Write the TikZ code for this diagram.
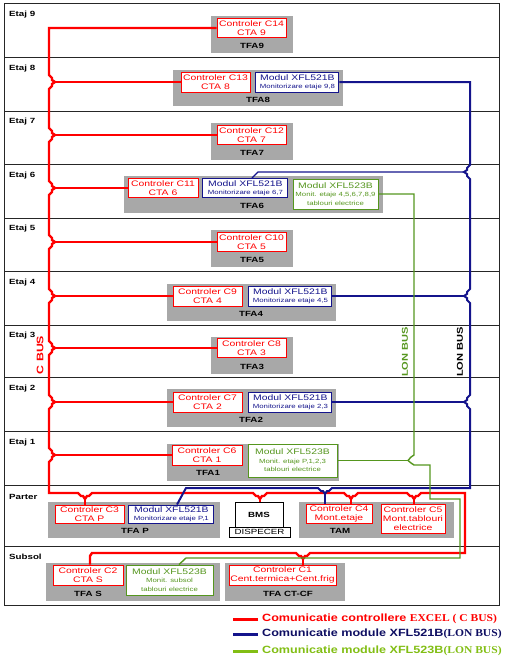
\documentclass[tikz,border=0pt]{standalone}
\usepackage{fontspec}
\setmainfont{Liberation Sans}
\newfontfamily\boxfont[FakeStretch=1.3]{Liberation Sans}
\newfontfamily\legfont[FakeStretch=1.2]{Liberation Sans}
\newfontfamily\legserif[FakeStretch=1.1]{Liberation Serif}
\usepackage{xcolor}
\usepackage{tikz}
\usetikzlibrary{positioning}

\definecolor{lonblue}{RGB}{20,20,140}
\definecolor{longreen}{RGB}{85,150,30}
\definecolor{leggreen}{RGB}{130,190,20}
\definecolor{panelgray}{RGB}{168,168,168}

\newcommand{\sm}[1]{{\fontsize{6}{7}\selectfont #1}}

\begin{document}
\begin{tikzpicture}[
  x=1pt,y=-1pt,
  panel/.style={fill=panelgray,inner sep=0pt},
  ctrl/.style={draw=red,fill=white,line width=0.9pt,text=red,inner sep=0pt,align=center,
    minimum width=69pt,minimum height=19pt,font=\boxfont\fontsize{8}{9}\selectfont},
  lmod/.style={draw=lonblue,fill=white,line width=0.9pt,text=lonblue,inner sep=0pt,align=center,
    minimum width=83pt,minimum height=20pt,font=\boxfont\fontsize{8}{8.5}\selectfont},
  gmod/.style={draw=longreen,fill=white,line width=0.9pt,text=longreen,inner sep=0pt,align=center,
    minimum width=86pt,minimum height=30pt,font=\boxfont\fontsize{8}{8.5}\selectfont},
  tfa/.style={inner sep=0pt,font=\boxfont\bfseries\fontsize{7.5}{9}\selectfont},
  etaj/.style={anchor=west,inner sep=0pt,font=\boxfont\bfseries\fontsize{7.5}{9}\selectfont},
  plain/.style={draw=black,fill=white,line width=0.9pt,inner sep=0pt,font=\boxfont\fontsize{7.5}{9}\selectfont},
  floor/.style={draw=black!85,line width=0.8pt},
  cbus/.style={draw=red,line width=2.4pt},
  lbus/.style={draw=lonblue,line width=2pt},
  lbr/.style={draw=lonblue,line width=1.3pt},
  gbus/.style={draw=longreen,line width=1.4pt},
  buslbl/.style={rotate=90,inner sep=0pt,font=\boxfont\bfseries\fontsize{8.5}{10}\selectfont},
  leg/.style={anchor=west,inner sep=0pt,font=\legfont\bfseries\fontsize{10.5}{12}\selectfont}
]
\useasboundingbox (0,0) rectangle (516,661);

% building outline and floors
\draw[floor] (4,3) rectangle (499,605);
\foreach \y in {57,111,164,218,271,325,377,431,485,546}
  \draw[floor] (4,\y) -- (499,\y);
\foreach \y/\t [count=\i] in {15/Etaj 9,69/Etaj 8,122/Etaj 7,176/Etaj 6,229/Etaj 5,
    283/Etaj 4,336/Etaj 3,389/Etaj 2,443/Etaj 1,497/Parter,557/Subsol}
  \node[etaj] (et\i) at (9,\y) {\t};

% panels
\node[panel,minimum width=82pt,minimum height=37pt] (p9) at (252,34.5) {};
\node[panel,minimum width=170pt,minimum height=36pt] (p8) at (258,88) {};
\node[panel,minimum width=82pt,minimum height=37pt] (p7) at (252,141) {};
\node[panel,minimum width=259pt,minimum height=37pt] (p6) at (253.5,194.5) {};
\node[panel,minimum width=82pt,minimum height=37pt] (p5) at (252,248.5) {};
\node[panel,minimum width=169pt,minimum height=37pt] (p4) at (251.5,302.5) {};
\node[panel,minimum width=82pt,minimum height=37pt] (p3) at (252,355.5) {};
\node[panel,minimum width=169pt,minimum height=38pt] (p2) at (251.5,408) {};
\node[panel,minimum width=172pt,minimum height=37pt] (p1) at (253,462.5) {};
\node[panel,minimum width=172pt,minimum height=36pt] (pp) at (134,520) {};
\node[panel,minimum width=155pt,minimum height=36pt] (ptam) at (376.5,520) {};
\node[panel,minimum width=174pt,minimum height=38pt] (ps) at (133,582) {};
\node[panel,minimum width=120pt,minimum height=38pt] (pct) at (285,582) {};

% controllers and modules
\node[ctrl] (c14) at (251.5,28) {Controler C14\\CTA 9};
\node[ctrl,minimum height=20pt] (c13) at (215.5,82) {Controler C13\\CTA 8};
\node[lmod,right=5pt of c13] (m8) {Modul XFL521B\\\sm{Monitorizare etaje 9,8}};
\node[ctrl] (c12) at (251.5,135) {Controler C12\\CTA 7};
\node[ctrl,minimum width=70pt] (c11) at (163,188) {Controler C11\\CTA 6};
\node[lmod,right=4pt of c11,minimum width=85pt,minimum height=19pt] (m6) {Modul XFL521B\\\sm{Monitorizare etaje 6,7}};
\node[gmod,minimum width=85pt] (g6) at (335.5,194) {Modul XFL523B\\\sm{Monit. etaje 4,5,6,7,8,9}\\\sm{tablouri electrice}};
\node[ctrl] (c10) at (251.5,242) {Controler C10\\CTA 5};
\node[ctrl,minimum height=20pt] (c9) at (207.5,296) {Controler C9\\CTA 4};
\node[lmod,right=6pt of c9] (m4) {Modul XFL521B\\\sm{Monitorizare etaje 4,5}};
\node[ctrl] (c8) at (251.5,348) {Controler C8\\CTA 3};
\node[ctrl,minimum height=20pt] (c7) at (207.5,402) {Controler C7\\CTA 2};
\node[lmod,right=6pt of c7] (m2) {Modul XFL521B\\\sm{Monitorizare etaje 2,3}};
\node[ctrl,minimum width=70pt,minimum height=20pt] (c6) at (207,455) {Controler C6\\CTA 1};
\node[gmod,minimum width=89pt,minimum height=33pt] (g1) at (292.5,460.5) {Modul XFL523B\\\sm{Monit. etaje P,1,2,3}\\\sm{tablouri electrice}};
\node[ctrl,minimum height=18pt] (c3) at (89.5,514) {Controler C3\\CTA P};
\node[lmod,right=4pt of c3,minimum width=85pt,minimum height=18pt] (mp) {Modul XFL521B\\\sm{Monitorizare etaje P,1}};
\node[plain,minimum width=48pt,minimum height=25pt,font=\boxfont\bfseries\fontsize{7.5}{9}\selectfont] (bms) at (259,514.5) {BMS};
\node[plain,minimum width=61pt,minimum height=10pt] (disp) at (259.5,532) {DISPECER};
\node[ctrl,minimum width=66pt] (c4) at (339,513.5) {Controler C4\\Mont.etaje};
\node[ctrl,minimum width=64pt,minimum height=29pt] (c5) at (413,518.5) {Controler C5\\Mont.tablouri\\electrice};
\node[ctrl,minimum width=70pt,minimum height=20pt] (c2) at (88,575) {Controler C2\\CTA S};
\node[gmod,minimum width=87pt] (gs) at (169.5,580) {Modul XFL523B\\\sm{Monit. subsol}\\\sm{tablouri electrice}};
\node[ctrl,minimum width=107pt,minimum height=20pt] (c1) at (282.5,575) {Controler C1\\Cent.termica+Cent.frig};

% panel labels
\node[tfa] (t9) at (252,46) {TFA9};
\node[tfa] (t8) at (258,100) {TFA8};
\node[tfa] (t7) at (252,153) {TFA7};
\node[tfa] (t6) at (252,206) {TFA6};
\node[tfa] (t5) at (252,260) {TFA5};
\node[tfa] (t4) at (251,314) {TFA4};
\node[tfa] (t3) at (252,367) {TFA3};
\node[tfa] (t2) at (251,420) {TFA2};
\node[tfa] (t1) at (208,473) {TFA1};
\node[tfa] (tp) at (135,531) {TFA P};
\node[tfa] (ttam) at (340,531) {TAM};
\node[tfa] (ts) at (88,594) {TFA S};
\node[tfa] (tct) at (288,594) {TFA CT-CF};

% C BUS
\draw[cbus] (c14.west) -- (49,28)
  \foreach \y in {82,135,188,242,296,348,402,455} {
    -- (49,\y-7) -- (52,\y-4) -- (52,\y-2) -- (55,\y) -- (52,\y+2) -- (52,\y+4) -- (49,\y+7) }
  -- (49,493)
  \foreach \x in {85,260,351,414} {
    -- (\x-7,493) -- (\x-4,496) -- (\x-2,496) -- (\x,499) -- (\x+2,496) -- (\x+4,496) -- (\x+7,493) }
  -- (465,493) -- (465,553) -- (310,553) -- (307,556) -- (305,556) -- (303,559)
  -- (301,556) -- (299,556) -- (296,553) -- (92,553) -- (90,556) -- (c2.north -| 90,0);
\foreach \n/\y in {c13/82,c12/135,c11/188,c10/242,c9/296,c8/348,c7/402,c6/455}
  \draw[cbus] (55,\y) -- (\n.west);
\foreach \n/\x in {c3/85,bms/260,c4/351,c5/414}
  \draw[cbus] (\x,499) -- (\n.north -| \x,0);
\draw[cbus] (303,559) -- (c1.north -| 303,0);

% LON BUS XFL521B
\draw[lbus] (m8.east) -- (470,82)
  \foreach \y in {172,296,402} {
    -- (470,\y-7) -- (467,\y-4) -- (467,\y-2) -- (464,\y) -- (467,\y+2) -- (467,\y+4) -- (470,\y+7) }
  -- (470,488) -- (332,488) -- (329,491) -- (327,491) -- (325,494) -- (323,491) -- (321,491)
  -- (318,488) -- (186,488) -- (mp.north -| 177,0);
\draw[lbr] (464,172) -- (258,172) -- (m6.north -| 252,0);
\draw[lbr] (m4.east) -- (464,296);
\draw[lbr] (m2.east) -- (464,402);
\draw[lbus] (325,494) -- (c4.north -| 325,0);

% LON BUS XFL523B
\draw[gbus] (g6.east) -- (414,194) -- (414,455) -- (411,457) -- (408,460.5) -- (411,463) -- (414,465)
  -- (430,465) -- (430,499) -- (460,499) -- (460,558) -- (186,558) -- (gs.north -| 179,0);
\draw[gbus] (g1.east) -- (408,460.5);

% bus names
\node[buslbl,text=red,font=\boxfont\bfseries\fontsize{9.5}{11}\selectfont] (cbl) at (40,355) {C BUS};
\node[buslbl,text=longreen] (gbl) at (405,352) {LON BUS};
\node[buslbl,text=black] (lbl) at (460,352) {LON BUS};

% legend
\node[leg,text=red] (leg1) at (262,619) {Comunicatie controllere {\legserif EXCEL ( C BUS)}};
\node[leg,text=lonblue!70!black] (leg2) at (262,634) {Comunicatie module XFL521B{\legserif(LON BUS)}};
\node[leg,text=leggreen] (leg3) at (262,651) {Comunicatie module XFL523B{\legserif(LON BUS)}};
\draw[red,line width=3pt] (leg1.west) ++(-4,0) -- ++(-25,0);
\draw[lonblue,line width=3pt] (leg2.west) ++(-4,0) -- ++(-25,0);
\draw[leggreen,line width=3pt] (leg3.west) ++(-4,0) -- ++(-25,0);
\end{tikzpicture}
\end{document}
